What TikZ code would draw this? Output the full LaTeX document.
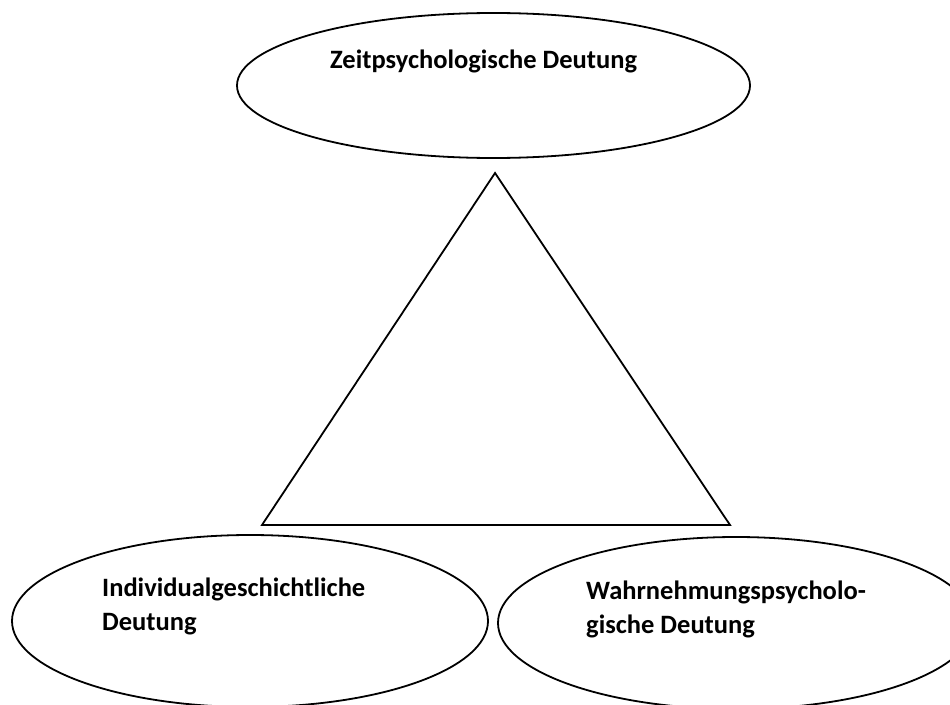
\documentclass[tikz,border=0pt]{standalone}
\usepackage{fontspec}
\setmainfont{Carlito}
\usetikzlibrary{shapes.geometric}
\begin{document}
\begin{tikzpicture}[x=1pt,y=-1pt,
  oval/.style={draw=black,line width=1.8pt,ellipse,inner sep=0pt},
  lbl/.style={anchor=base west,inner sep=0pt,font=\fontsize{26.5}{32}\selectfont\bfseries},
  tri/.style={draw=black,line width=1.8pt,line join=miter}]
\useasboundingbox[fill=white] (0,0) rectangle (950,704);
% ellipses
\node[oval,minimum width=513pt,minimum height=145pt] (top) at (493.5,85.5) {};
\node[oval,minimum width=476pt,minimum height=172pt] (left) at (250,621) {};
\node[oval,minimum width=476pt,minimum height=172pt] (right) at (736,623) {};
% labels
\node[lbl] (ttop) at (330,68) {Zeitpsychologische Deutung};
\node[lbl] (tl1) at (102,596) {Individualgeschichtliche};
\node[lbl] (tl2) at (102,630) {Deutung};
\node[lbl] (tr1) at (586,599) {Wahrnehmungspsycholo-};
\node[lbl] (tr2) at (586,633) {gische Deutung};
% triangle
\coordinate (apex) at (495,173);
\coordinate (bl) at (262,525);
\coordinate (br) at (730,525);
\draw[tri] (apex) -- (bl) -- (br) -- cycle;
\end{tikzpicture}
\end{document}
